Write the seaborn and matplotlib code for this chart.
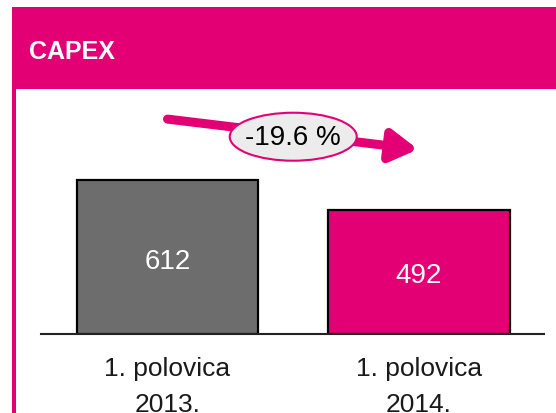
import numpy as np
import matplotlib
matplotlib.use("Agg")
import matplotlib.pyplot as plt
from matplotlib.patches import Rectangle, Ellipse
import seaborn as sns

# data
periods = ["1. polovica\n2013.", "1. polovica\n2014."]
capex = [612, 492]
bar_colors = ["#6d6d6d", "#e20074"]
title = "CAPEX"

MAGENTA = "#e20074"

sns.set_style("white")
plt.rcParams["font.family"] = ["Liberation Sans", "DejaVu Sans"]

fig = plt.figure(figsize=(5.56, 4.14), dpi=100)
W, H = 556, 414

def fx(px):
    return px / W

def fy(py):
    return 1 - py / H

# header band and left frame line
fig.patches.append(Rectangle((fx(12), fy(90)), fx(544), 82 / H, transform=fig.transFigure,
                             facecolor=MAGENTA, edgecolor="none", zorder=0))
fig.patches.append(Rectangle((fx(12), 0), fx(4), fy(90), transform=fig.transFigure,
                             facecolor=MAGENTA, edgecolor="none", zorder=0))
fig.text(fx(29), fy(52), title, color="white", fontsize=18, fontweight="bold",
         va="center", ha="left")

# main axes: baseline at y=335px, spans x 41..544px
ax = fig.add_axes([fx(41), fy(335), fx(503), (335 - 100) / H])
sns.barplot(x=periods, y=capex, hue=periods, palette=bar_colors, width=0.72,
            saturation=1, edgecolor="black", linewidth=1.6, legend=False, ax=ax, zorder=2)
ax.set_xlim(-0.503, 1.497)
ax.set_ylim(0, 235 * 612 / 154)

for s in ["top", "right", "left"]:
    ax.spines[s].set_visible(False)
ax.spines["bottom"].set_color("#222222")
ax.spines["bottom"].set_linewidth(1.5)
ax.set_yticks([])
ax.set_ylabel("")
ax.tick_params(axis="x", length=0, pad=16, labelsize=19, colors="#1a1a1a")
for lab in ax.get_xticklabels():
    lab.set_linespacing(1.62)

# value labels inside bars
for i, v in enumerate(capex):
    ax.text(i, v * 0.475, f"{v}", color="white", fontsize=20, ha="center", va="center")

# change arrow with ellipse label
off = 242
ax.annotate("", xy=(0.996, capex[1] + off), xytext=(0, capex[0] + off),
            arrowprops=dict(arrowstyle="-|>,head_length=1.6,head_width=0.95",
                            color=MAGENTA, lw=6.5, shrinkA=0, shrinkB=0), zorder=3)
mid_x = 0.5
mid_y = (capex[0] + capex[1]) / 2 + off - 10
ax.add_patch(Ellipse((mid_x, mid_y), 0.505, 48 * 612 / 154, facecolor="#ececec",
                     edgecolor=MAGENTA, lw=1.5, zorder=4))
change = (capex[1] - capex[0]) / capex[0] * 100
ax.text(mid_x, mid_y, f"{change:.1f} %", fontsize=20, ha="center", va="center",
        color="black", zorder=5)

fig.savefig("out.png", dpi=100)
